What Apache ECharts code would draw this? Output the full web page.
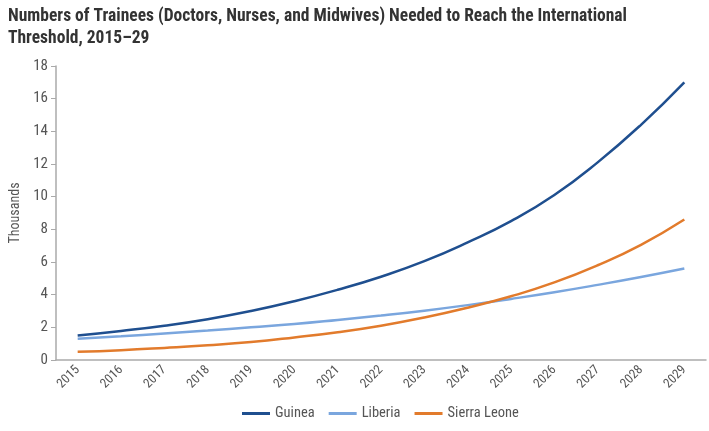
<!DOCTYPE html>
<html><head><meta charset="utf-8">
<script src="https://cdn.jsdelivr.net/npm/echarts@6/dist/echarts.min.js"></script>
<style>html,body{margin:0;padding:0;background:#fff}#c{width:709px;height:431px}</style>
</head><body><div id="c"></div>
<script>
const years = ['2015','2016','2017','2018','2019','2020','2021','2022','2023','2024','2025','2026','2027','2028','2029'];
const guinea = [1.5,1.78,2.1,2.5,3.0,3.6,4.3,5.1,6.05,7.2,8.5,10.1,12.1,14.4,17.0];
const liberia = [1.3,1.45,1.62,1.8,2.0,2.2,2.45,2.72,3.02,3.36,3.74,4.15,4.6,5.08,5.6];
const sierraLeone = [0.5,0.6,0.74,0.9,1.1,1.38,1.7,2.1,2.6,3.2,3.9,4.75,5.8,7.05,8.6];
const yTicks = [0,2,4,6,8,10,12,14,16,18];
const font = '"Roboto Condensed", "Liberation Sans Narrow", "Roboto", sans-serif';
const chart = echarts.init(document.getElementById('c'));
chart.setOption({
  animation:false,
  title:{text:'Numbers of Trainees (Doctors, Nurses, and Midwives) Needed to Reach the International\nThreshold, 2015–29',left:3,top:1,textStyle:{fontFamily:font,fontSize:17.5,fontWeight:'bold',color:'#333',lineHeight:22}},
  grid:{left:47,right:3,top:66,bottom:71},
  legend:{bottom:5,left:237,itemWidth:28,itemHeight:3,itemGap:14,icon:'rect',textStyle:{fontFamily:font,fontSize:14.5,color:'#555'},data:['Guinea','Liberia','Sierra Leone']},
  xAxis:{type:'category',data:years,boundaryGap:true,
    axisLine:{lineStyle:{color:'#aaa',width:1.5}},
    axisTick:{alignWithLabel:true,length:5,lineStyle:{color:'#aaa'}},
    axisLabel:{rotate:45,fontFamily:font,fontSize:13,color:'#555',margin:8}},
  yAxis:{type:'value',min:0,max:18,interval:2,name:'Thousands',nameLocation:'middle',nameGap:34,nameRotate:90,
    nameTextStyle:{fontFamily:font,fontSize:14,color:'#555'},
    axisLine:{show:true,lineStyle:{color:'#aaa',width:1.5}},
    axisTick:{show:true,length:5,lineStyle:{color:'#aaa'}},
    splitLine:{show:false},
    axisLabel:{fontFamily:font,fontSize:15,color:'#555',margin:8,formatter:v=>yTicks.includes(v)?String(v):''}},
  series:[
    {name:'Guinea',type:'line',data:guinea,smooth:true,symbol:'none',lineStyle:{width:2.5,color:'#1f4f8f'},itemStyle:{color:'#1f4f8f'}},
    {name:'Liberia',type:'line',data:liberia,smooth:true,symbol:'none',lineStyle:{width:2.5,color:'#7aa6de'},itemStyle:{color:'#7aa6de'}},
    {name:'Sierra Leone',type:'line',data:sierraLeone,smooth:true,symbol:'none',lineStyle:{width:2.5,color:'#e27b2c'},itemStyle:{color:'#e27b2c'}}
  ]
});
</script></body></html>
